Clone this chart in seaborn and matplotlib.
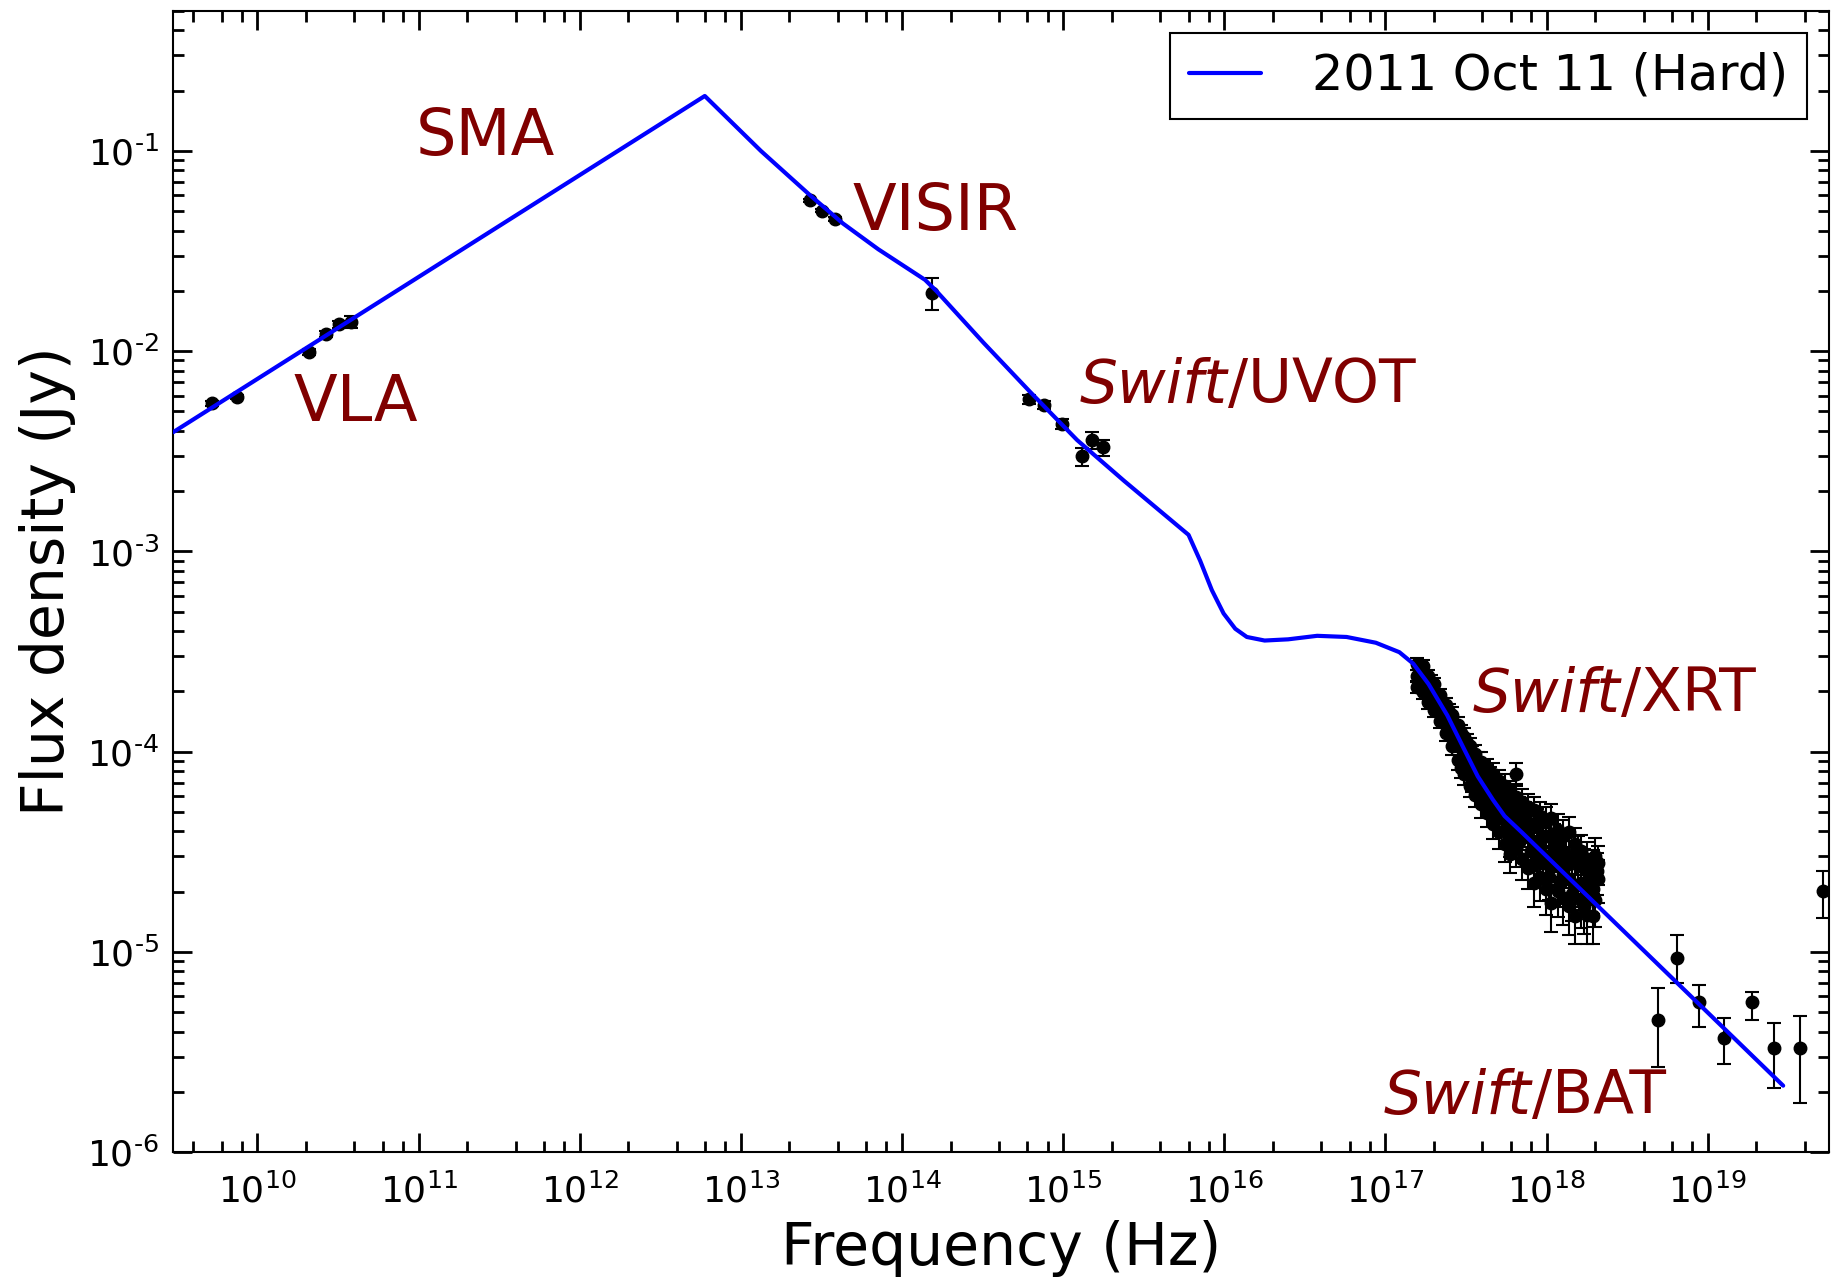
import numpy as np
import pandas as pd
import matplotlib
matplotlib.use("Agg")
import matplotlib.pyplot as plt
import matplotlib.ticker as mticker
import seaborn as sns

# ---- broadband model ----
model_nu = [3.0e9, 5.97e12, 1.33e13, 2.69e13, 4.30e13, 7.11e13, 1.39e14, 1.64e14,
            3.21e14, 6.26e14, 1.22e15, 2.39e15, 6.0e15, 7.09e15, 8.37e15, 9.9e15,
            1.17e16, 1.38e16, 1.78e16, 2.49e16, 3.77e16, 5.74e16, 8.72e16, 1.22e17,
            1.49e17, 1.85e17, 2.42e17, 3.06e17, 3.74e17, 4.65e17, 5.49e17, 7.06e17,
            2.94e19]
model_flux = [3.94e-3, 0.188, 0.100, 0.060, 0.0434, 0.0323, 0.0227, 0.0199,
              0.011, 6.24e-3, 3.60e-3, 2.25e-3, 1.21e-3, 8.97e-4, 6.41e-4, 4.90e-4,
              4.11e-4, 3.74e-4, 3.59e-4, 3.64e-4, 3.79e-4, 3.74e-4, 3.50e-4, 3.14e-4,
              2.75e-4, 2.18e-4, 1.52e-4, 1.04e-4, 7.54e-5, 5.75e-5, 4.77e-5, 3.94e-5,
              2.15e-6]

# ---- VLA ----
vla_nu = [5.2e9, 7.5e9, 2.09e10, 2.65e10, 3.2e10, 3.8e10]
vla_flux = [5.5e-3, 5.9e-3, 9.9e-3, 1.22e-2, 1.36e-2, 1.4e-2]
vla_err = [1.5e-4, 1.5e-4, 3e-4, 4e-4, 6e-4, 1e-3]

# ---- VISIR ----
visir_nu = [2.69e13, 3.18e13, 3.83e13, 1.53e14]
visir_flux = [0.0568, 0.0503, 0.0458, 0.0196]
visir_err = [0.001, 0.001, 0.001, 0.0035]

# ---- Swift/UVOT ----
uvot_nu = [6.15e14, 7.65e14, 9.84e14, 1.31e15, 1.51e15, 1.77e15]
uvot_flux = [5.75e-3, 5.38e-3, 4.34e-3, 2.98e-3, 3.6e-3, 3.31e-3]
uvot_err = [3e-4, 2.5e-4, 2.5e-4, 3e-4, 3.5e-4, 3e-4]

# ---- Swift/XRT ----
xrt_nu = [1.57e17, 1.57e17, 1.57e17, 1.70e17, 1.70e17, 1.70e17,
          1.85e17, 1.85e17, 1.85e17, 2.01e17, 2.01e17, 2.01e17,
          2.19e17, 2.19e17, 2.19e17, 2.38e17, 2.38e17, 2.38e17,
          2.59e17, 2.59e17, 2.59e17, 2.81e17, 2.81e17, 2.81e17,
          3.06e17, 3.06e17, 3.06e17, 3.33e17, 3.33e17, 3.33e17,
          3.61e17, 3.61e17, 3.61e17, 3.93e17, 3.93e17, 3.93e17,
          4.27e17, 4.27e17, 4.27e17, 4.65e17, 4.65e17, 4.65e17,
          5.05e17, 5.05e17, 5.05e17, 5.49e17, 5.49e17, 5.49e17, 5.49e17,
          5.97e17, 5.97e17, 5.97e17, 5.97e17, 6.49e17, 6.49e17, 6.49e17, 6.49e17,
          7.06e17, 7.06e17, 7.06e17, 7.67e17, 7.67e17, 7.67e17,
          8.35e17, 8.35e17, 8.35e17, 8.35e17, 9.08e17, 9.08e17, 9.08e17,
          9.87e17, 9.87e17, 9.87e17, 1.07e18, 1.07e18, 1.07e18,
          1.17e18, 1.17e18, 1.17e18, 1.27e18, 1.27e18, 1.27e18,
          1.38e18, 1.38e18, 1.38e18, 1.50e18, 1.50e18, 1.50e18,
          1.63e18, 1.63e18, 1.63e18, 1.77e18, 1.77e18, 1.77e18,
          1.93e18, 1.93e18, 1.93e18, 2.10e18, 2.10e18,
          1.64e17, 1.77e17, 1.93e17, 2.10e17, 2.28e17, 2.48e17, 2.70e17, 2.93e17,
          3.19e17, 3.47e17, 3.77e17, 4.10e17, 4.45e17, 4.85e17, 5.27e17, 5.73e17,
          6.23e17, 6.77e17, 7.36e17, 8.00e17, 8.71e17, 9.47e17, 1.03e18, 1.12e18,
          1.22e18, 1.32e18, 1.44e18, 1.56e18, 1.70e18, 1.85e18, 2.01e18, 2.05e18,
          2.93e17, 3.19e17, 3.47e17, 3.77e17, 4.10e17, 4.45e17, 4.85e17, 5.27e17,
          5.73e17, 6.23e17, 6.77e17, 7.36e17, 8.00e17, 8.71e17, 9.47e17, 1.03e18,
          1.12e18, 1.22e18, 1.32e18, 1.44e18, 1.56e18, 1.70e18, 1.85e18, 2.01e18]
xrt_flux = [2.75e-4, 2.40e-4, 2.10e-4, 2.67e-4, 2.34e-4, 1.98e-4,
            2.40e-4, 2.10e-4, 1.78e-4, 2.18e-4, 1.91e-4, 1.62e-4,
            1.91e-4, 1.67e-4, 1.42e-4, 1.71e-4, 1.46e-4, 1.24e-4,
            1.52e-4, 1.27e-4, 1.07e-4, 1.36e-4, 1.11e-4, 9.10e-5,
            1.19e-4, 9.73e-5, 7.75e-5, 1.07e-4, 8.51e-5, 6.77e-5,
            9.73e-5, 7.75e-5, 6.08e-5, 8.85e-5, 7.15e-5, 5.45e-5,
            8.17e-5, 6.50e-5, 4.97e-5, 7.75e-5, 5.92e-5, 4.34e-5,
            7.15e-5, 5.31e-5, 3.95e-5, 6.77e-5, 4.97e-5, 4.06e-5, 3.45e-5,
            6.24e-5, 4.65e-5, 3.65e-5, 3.10e-5, 7.75e-5, 5.92e-5, 4.34e-5, 3.31e-5,
            5.60e-5, 4.06e-5, 2.90e-5, 5.31e-5, 3.79e-5, 2.64e-5,
            5.10e-5, 3.55e-5, 2.71e-5, 2.21e-5, 4.77e-5, 3.31e-5, 2.37e-5,
            4.46e-5, 3.02e-5, 2.07e-5, 4.65e-5, 2.71e-5, 1.75e-5,
            4.06e-5, 2.78e-5, 2.02e-5, 3.79e-5, 2.43e-5, 1.87e-5,
            3.95e-5, 2.31e-5, 1.69e-5, 3.45e-5, 2.14e-5, 1.52e-5,
            3.18e-5, 2.21e-5, 1.81e-5, 2.90e-5, 2.02e-5, 1.53e-5,
            2.64e-5, 2.07e-5, 1.52e-5, 2.78e-5, 2.31e-5,
            2.60e-4, 2.15e-4, 2.24e-4, 1.78e-4, 1.56e-4, 1.58e-4, 1.16e-4, 1.24e-4,
            8.74e-5, 9.60e-5, 6.77e-5, 7.96e-5, 5.68e-5, 6.77e-5, 4.65e-5, 5.75e-5,
            5.31e-5, 5.10e-5, 4.77e-5, 3.18e-5, 4.34e-5, 2.78e-5, 3.79e-5, 3.55e-5,
            3.31e-5, 3.10e-5, 2.90e-5, 2.71e-5, 2.64e-5, 2.43e-5, 1.81e-5, 2.53e-5,
            8.29e-5, 1.11e-4, 7.15e-5, 8.85e-5, 6.08e-5, 7.44e-5, 4.97e-5, 6.08e-5,
            4.17e-5, 3.79e-5, 3.55e-5, 4.65e-5, 4.34e-5, 2.90e-5, 3.79e-5, 2.37e-5,
            3.18e-5, 2.21e-5, 2.71e-5, 1.94e-5, 3.10e-5, 1.69e-5, 2.31e-5, 3.02e-5]
xrt_relerr = [0.07, 0.07, 0.07, 0.07, 0.07, 0.07,
              0.07, 0.07, 0.08, 0.07, 0.08, 0.08,
              0.08, 0.08, 0.08, 0.08, 0.08, 0.09,
              0.10, 0.10, 0.10, 0.10, 0.10, 0.11,
              0.10, 0.11, 0.12, 0.10, 0.11, 0.12,
              0.11, 0.12, 0.13, 0.12, 0.13, 0.14,
              0.12, 0.13, 0.15, 0.13, 0.14, 0.16,
              0.13, 0.15, 0.17, 0.14, 0.15, 0.16, 0.18,
              0.15, 0.16, 0.18, 0.20, 0.13, 0.16, 0.18, 0.20,
              0.16, 0.18, 0.21, 0.16, 0.19, 0.22,
              0.17, 0.19, 0.21, 0.24, 0.18, 0.21, 0.24,
              0.19, 0.22, 0.26, 0.18, 0.22, 0.28,
              0.20, 0.22, 0.26, 0.20, 0.23, 0.27,
              0.20, 0.24, 0.28, 0.21, 0.24, 0.28,
              0.21, 0.24, 0.27, 0.22, 0.25, 0.28,
              0.22, 0.25, 0.28, 0.22, 0.24,
              0.07, 0.07, 0.08, 0.08, 0.08, 0.09, 0.10, 0.10,
              0.11, 0.11, 0.12, 0.13, 0.13, 0.14, 0.15, 0.15,
              0.16, 0.17, 0.17, 0.19, 0.19, 0.21, 0.21, 0.22,
              0.22, 0.23, 0.23, 0.24, 0.24, 0.25, 0.26, 0.24,
              0.11, 0.10, 0.12, 0.12, 0.14, 0.13, 0.15, 0.14,
              0.17, 0.18, 0.18, 0.17, 0.18, 0.21, 0.20, 0.23,
              0.21, 0.24, 0.23, 0.26, 0.22, 0.27, 0.25, 0.23]

# ---- Swift/BAT ----
bat_nu = [4.92e18, 6.43e18, 8.83e18, 1.26e19, 1.87e19, 2.57e19, 3.72e19, 5.2e19]
bat_flux = [4.58e-6, 9.35e-6, 5.6e-6, 3.74e-6, 5.6e-6, 3.32e-6, 3.32e-6, 2.01e-5]
bat_err_lo = [1.91e-6, 2.31e-6, 1.38e-6, 0.99e-6, 1.02e-6, 1.22e-6, 1.56e-6, 0.53e-5]
bat_err_hi = [2.02e-6, 2.75e-6, 1.26e-6, 0.96e-6, 0.70e-6, 1.08e-6, 1.48e-6, 0.53e-5]

# ---- figure ----
sns.set_theme(style="ticks", rc={'text.color': 'black', 'axes.labelcolor': 'black',
                                 'xtick.color': 'black', 'ytick.color': 'black',
                                 'axes.edgecolor': 'black'})
plt.rcParams['font.family'] = ['DejaVu Sans']
plt.rcParams['mathtext.fontset'] = 'dejavusans'
plt.rcParams['axes.unicode_minus'] = False

fig = plt.figure(figsize=(18.35, 12.81), dpi=100)
ax = fig.add_axes([0.0944, 0.1005, 0.9026, 0.891])
ax.set_xscale('log')
ax.set_yscale('log')

model_df = pd.DataFrame({'nu': model_nu, 'flux': model_flux})
sns.lineplot(data=model_df, x='nu', y='flux', ax=ax, color='#0000ff', lw=3,
             sort=False, estimator=None, label='2011 Oct 11 (Hard)', zorder=3)

eb = dict(fmt='o', color='black', ms=9, elinewidth=1.5, capsize=5, capthick=1.5, zorder=2)
ax.errorbar(vla_nu, vla_flux, yerr=vla_err, **eb)
ax.errorbar(visir_nu, visir_flux, yerr=visir_err, **eb)
ax.errorbar(uvot_nu, uvot_flux, yerr=uvot_err, **eb)
xrt_f = np.array(xrt_flux)
ax.errorbar(xrt_nu, xrt_f, yerr=xrt_f * np.array(xrt_relerr), **eb)
ax.errorbar(bat_nu, bat_flux, yerr=[bat_err_lo, bat_err_hi], **eb)

ax.set_xlim(3.0e9, 5.7e19)
ax.set_ylim(1e-6, 0.5)


def pow10(v, pos):
    e = int(round(np.log10(v)))
    if e < 0:
        return r'$\mathdefault{10^{\text{-}%d}}$' % (-e)
    return r'$\mathdefault{10^{%d}}$' % e


ax.xaxis.set_major_locator(mticker.LogLocator(base=10, numticks=20))
ax.xaxis.set_minor_locator(mticker.LogLocator(base=10, subs=[2, 4, 6, 8], numticks=20))
ax.yaxis.set_major_locator(mticker.LogLocator(base=10, numticks=20))
ax.yaxis.set_minor_locator(mticker.LogLocator(base=10, subs=np.arange(2, 10), numticks=20))
ax.xaxis.set_major_formatter(mticker.FuncFormatter(pow10))
ax.yaxis.set_major_formatter(mticker.FuncFormatter(pow10))
ax.xaxis.set_minor_formatter(mticker.NullFormatter())
ax.yaxis.set_minor_formatter(mticker.NullFormatter())

ax.tick_params(which='both', direction='in', top=True, right=True, labelsize=26)
ax.tick_params(which='major', length=14, width=2, pad=10)
ax.tick_params(axis='x', which='major', pad=15)
ax.tick_params(which='minor', length=8, width=2)
for s in ax.spines.values():
    s.set_linewidth(1.5)

ax.set_xlabel('Frequency (Hz)', fontsize=42, labelpad=8)
ax.set_ylabel('Flux density (Jy)', fontsize=42, labelpad=8)

red = '#800000'


def label(x, y, italic, rest, size=46):
    # italic part first, the plain remainder glued on right after it
    if italic:
        t = ax.text(x, y, italic, color=red, fontsize=size, style='italic',
                    va='center', ha='left')
        ax.annotate(rest, xy=(1, 0), xycoords=t, color=red, fontsize=size,
                    va='bottom', ha='left')
    else:
        ax.text(x, y, rest, color=red, fontsize=size, va='center', ha='left')


label(9.6e10, 0.117, '', 'SMA')
label(4.9e13, 0.0497, '', 'VISIR')
label(1.68e10, 5.5e-3, '', 'VLA')
label(1.27e15, 6.7e-3, 'Swift', '/UVOT', 43)
label(3.5e17, 1.91e-4, 'Swift', '/XRT', 43)
label(9.8e16, 1.88e-6, 'Swift', '/BAT', 43)

leg = ax.legend(loc='upper right', fontsize=35.5, frameon=True, fancybox=False,
                edgecolor='black', framealpha=1, handlelength=1.45,
                handletextpad=1.05, borderaxespad=0.45, borderpad=0.38)
leg.get_frame().set_linewidth(1.5)

fig.savefig('out.png', dpi=100)
